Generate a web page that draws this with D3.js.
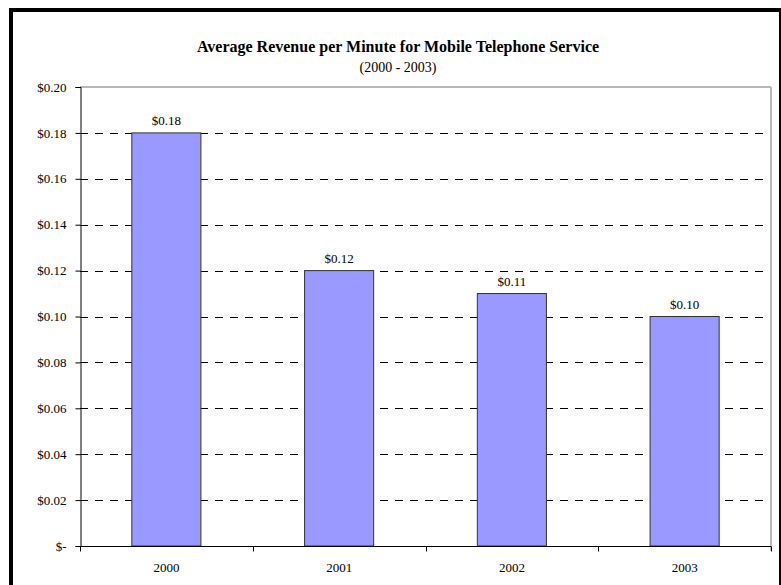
<!DOCTYPE html>
<html>
<head>
<meta charset="utf-8">
<script src="https://cdn.jsdelivr.net/npm/d3@7"></script>
<style>
  html, body { margin: 0; padding: 0; background: #fff; }
  svg { display: block; }
</style>
</head>
<body>
<svg id="chart" width="781" height="585"></svg>
<script>
// Average revenue per minute, mobile telephone service
const years = ["2000", "2001", "2002", "2003"];
const revenue = [0.18, 0.12, 0.11, 0.10];
const yTicks = [0, 0.02, 0.04, 0.06, 0.08, 0.10, 0.12, 0.14, 0.16, 0.18, 0.20];
const titleText = "Average Revenue per Minute for Mobile Telephone Service";
const subtitleText = "(2000 - 2003)";

const FONT = "'Liberation Serif', 'Times New Roman', serif";
const svg = d3.select("#chart");
const W = 781, H = 585;

// Frame around the chart
svg.append("rect").attr("x", 9).attr("y", 8).attr("width", 4).attr("height", H - 8).attr("fill", "#000");
svg.append("rect").attr("x", 9).attr("y", 8).attr("width", W - 9).attr("height", 4).attr("fill", "#000");
svg.append("rect").attr("x", 779).attr("y", 8).attr("width", 2).attr("height", H - 8).attr("fill", "#000");

const plot = { left: 80, right: 771, top: 87, bottom: 546 };

const x = d3.scaleBand()
  .domain(years)
  .range([plot.left, plot.right])
  .paddingInner(0.6)
  .paddingOuter(0.3);

const y = d3.scaleLinear()
  .domain([0, 0.20])
  .range([plot.bottom, plot.top]);

const fmt = v => v === 0 ? "$-" : "$" + d3.format(".2f")(v);

// Plot area border (top and right)
svg.append("line")
  .attr("x1", plot.left).attr("x2", plot.right)
  .attr("y1", plot.top).attr("y2", plot.top)
  .attr("stroke", "#a0a0a0").attr("stroke-width", 1.5);
svg.append("line")
  .attr("x1", plot.right).attr("x2", plot.right)
  .attr("y1", plot.top).attr("y2", plot.bottom + 5)
  .attr("stroke", "#b8b8b8").attr("stroke-width", 2);

// Dashed gridlines
svg.append("g")
  .selectAll("line")
  .data(yTicks.filter(t => t > 0 && t < 0.20))
  .join("line")
  .attr("x1", plot.left).attr("x2", plot.right - 1)
  .attr("y1", d => Math.round(y(d)) + 0.5).attr("y2", d => Math.round(y(d)) + 0.5)
  .attr("stroke", "#000").attr("stroke-width", 1)
  .attr("stroke-dasharray", "8,7");

// Bars
const rows = years.map((yr, i) => ({ yr, v: revenue[i] }));
svg.append("g")
  .selectAll("rect")
  .data(rows)
  .join("rect")
  .attr("x", d => x(d.yr))
  .attr("y", d => y(d.v))
  .attr("width", x.bandwidth())
  .attr("height", d => y(0) - y(d.v))
  .attr("fill", "#9999ff")
  .attr("stroke", "#333")
  .attr("stroke-width", 1);

// Value labels
svg.append("g")
  .selectAll("text")
  .data(rows)
  .join("text")
  .attr("x", d => x(d.yr) + x.bandwidth() / 2)
  .attr("y", d => y(d.v) - 8)
  .attr("text-anchor", "middle")
  .style("font-family", FONT).style("font-size", "13px").attr("fill", "#000")
  .text(d => fmt(d.v));

// Y axis
const yAxis = svg.append("g")
  .attr("transform", `translate(${plot.left + 0.5},0)`)
  .call(d3.axisLeft(y).tickValues(yTicks).tickFormat(fmt).tickSize(5).tickPadding(9));
yAxis.select(".domain").attr("stroke", "#000");
yAxis.selectAll("text").style("font-family", FONT).style("font-size", "13px").attr("fill", "#000");

// X axis with ticks at category boundaries
const xAxis = svg.append("g")
  .attr("transform", `translate(0,${plot.bottom + 0.5})`);
xAxis.append("line")
  .attr("x1", plot.left).attr("x2", plot.right)
  .attr("stroke", "#000");
const boundaries = d3.range(years.length + 1).map(i => plot.left + i * (plot.right - plot.left) / years.length);
xAxis.selectAll("line.tick")
  .data(boundaries)
  .join("line")
  .attr("class", "tick")
  .attr("x1", d => Math.round(d) + 0.5).attr("x2", d => Math.round(d) + 0.5)
  .attr("y1", 0).attr("y2", 5)
  .attr("stroke", "#000");
xAxis.selectAll("text")
  .data(years)
  .join("text")
  .attr("x", d => x(d) + x.bandwidth() / 2)
  .attr("y", 25)
  .attr("text-anchor", "middle")
  .style("font-family", FONT).style("font-size", "13px").attr("fill", "#000")
  .text(d => d);

// Titles
svg.append("text")
  .attr("x", 398).attr("y", 52)
  .attr("text-anchor", "middle")
  .style("font-family", FONT).style("font-size", "16px").style("font-weight", "bold")
  .text(titleText);
svg.append("text")
  .attr("x", 398).attr("y", 72)
  .attr("text-anchor", "middle")
  .style("font-family", FONT).style("font-size", "14px")
  .text(subtitleText);
</script>
</body>
</html>
